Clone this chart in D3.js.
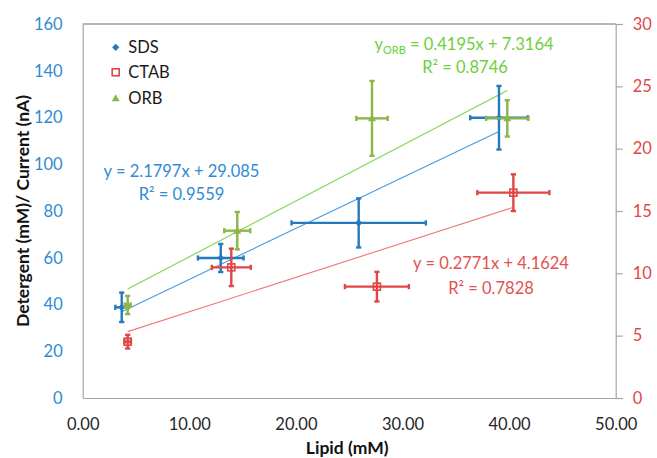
<!DOCTYPE html>
<html>
<head>
<meta charset="utf-8">
<script src="https://cdn.jsdelivr.net/npm/d3@7"></script>
<style>
  body { margin: 0; background: #fff; }
  svg { font-family: Lato, "Open Sans", sans-serif; }
</style>
</head>
<body>
<svg id="grafico" width="657" height="458"></svg>
<script>
// series y valores (SDS en eje izquierdo, CTAB y ORB en eje derecho)
const series = ["SDS", "CTAB", "ORB"];

const sdsX = [3.66, 12.95, 25.89, 39.05];
const sdsY = [38.8, 59.9, 74.9, 119.9];
const sdsErrX = [0.6, 2.14, 6.3, 2.7];
const sdsErrY = [6.3, 6.0, 10.5, 13.6];

const ctabX = [4.22, 13.94, 27.6, 40.4];
const ctabY = [4.52, 10.48, 8.93, 16.47];
const ctabErrX = [0.3, 1.83, 3.0, 3.38];
const ctabErrY = [0.55, 1.5, 1.19, 1.47];

const orbX = [4.22, 14.5, 27.14, 39.83];
const orbY = [7.46, 13.42, 22.43, 22.43];
const orbErrX = [0.28, 1.22, 1.47, 1.99];
const orbErrY = [0.73, 1.5, 3.0, 1.46];

const ticksX = [0, 10, 20, 30, 40, 50];
const ticksIzq = [0, 20, 40, 60, 80, 100, 120, 140, 160];
const ticksDer = [0, 5, 10, 15, 20, 25, 30];

// textos de las ecuaciones de tendencia
const ecuacionSDS = ["y = 2.1797x + 29.085", "R² = 0.9559"];
const ecuacionCTAB = ["y = 0.2771x + 4.1624", "R² = 0.7828"];
const ecuacionORB = [" = 0.4195x + 7.3164", "R² = 0.8746"];

const margen = { top: 24, right: 41.3, bottom: 60, left: 82.7 };
const ancho = 657, alto = 458;

const svg = d3.select("#grafico");

const x = d3.scaleLinear().domain([0, 50]).range([margen.left, ancho - margen.right]);
const yIzq = d3.scaleLinear().domain([0, 160]).range([alto - margen.bottom, margen.top]);
const yDer = d3.scaleLinear().domain([0, 30]).range([alto - margen.bottom, margen.top]);

const colores = {
  SDS: { punto: "#2579bf", linea: "#4a9be0", texto: "#2f8bd3" },
  CTAB: { punto: "#e04646", linea: "#f07878", texto: "#e25252" },
  ORB: { punto: "#8cb646", linea: "#7fd650", texto: "#6cd03c" }
};

// borde superior del area de trazado
svg.append("line")
  .attr("x1", x(0)).attr("x2", x(50))
  .attr("y1", yIzq(160)).attr("y2", yIzq(160))
  .attr("stroke", "#6e6e6e").attr("stroke-width", 1.2);

// ejes
const ejeX = svg.append("g")
  .attr("transform", `translate(0,${alto - margen.bottom})`)
  .call(d3.axisBottom(x).tickValues(ticksX).tickSize(0).tickPadding(20).tickFormat(d3.format(".2f")));

const ejeIzq = svg.append("g")
  .attr("transform", `translate(${margen.left},0)`)
  .call(d3.axisLeft(yIzq).tickValues(ticksIzq).tickSize(0).tickPadding(20));

const ejeDer = svg.append("g")
  .attr("transform", `translate(${ancho - margen.right},0)`)
  .call(d3.axisRight(yDer).tickValues(ticksDer).tickSize(7).tickPadding(10));

[ejeX, ejeIzq, ejeDer].forEach(g => {
  g.select(".domain").attr("stroke", "#a6a6a6").attr("stroke-width", 1.2);
  g.selectAll(".tick line").attr("stroke", "#a6a6a6").attr("stroke-width", 1.2);
  g.selectAll("text").attr("font-family", "Lato, sans-serif").attr("font-size", 16.5);
});
ejeX.selectAll("text").attr("fill", "#262626");
ejeIzq.selectAll("text").attr("fill", "#2f8bd3");
ejeDer.selectAll("text").attr("fill", "#e04848");

// titulos de ejes
svg.append("text")
  .attr("x", x(25) - 2).attr("y", 454)
  .attr("text-anchor", "middle")
  .attr("font-weight", "bold").attr("font-size", 17.5).attr("fill", "#111")
  .text("Lipid (mM)");

svg.append("text")
  .attr("transform", `translate(28.5,${(yIzq(0) + yIzq(160)) / 2}) rotate(-90)`)
  .attr("text-anchor", "middle")
  .attr("font-weight", "bold").attr("font-size", 17.5).attr("fill", "#111")
  .text("Detergent (mM)/ Current (nA)");

// recta de minimos cuadrados entre el menor y el mayor x
function tendencia(xs, ys) {
  const mx = d3.mean(xs), my = d3.mean(ys);
  const sxy = d3.sum(xs, (v, i) => (v - mx) * (ys[i] - my));
  const sxx = d3.sum(xs, v => (v - mx) * (v - mx));
  const m = sxy / sxx, b = my - m * mx;
  const x0 = d3.min(xs), x1 = d3.max(xs);
  return [[x0, m * x0 + b], [x1, m * x1 + b]];
}

const datos = [
  { nombre: "SDS", xs: sdsX, ys: sdsY, ex: sdsErrX, ey: sdsErrY, y: yIzq },
  { nombre: "CTAB", xs: ctabX, ys: ctabY, ex: ctabErrX, ey: ctabErrY, y: yDer },
  { nombre: "ORB", xs: orbX, ys: orbY, ex: orbErrX, ey: orbErrY, y: yDer }
];

// lineas de tendencia
datos.forEach(s => {
  const pts = tendencia(s.xs, s.ys);
  svg.append("path")
    .attr("d", d3.line().x(d => x(d[0])).y(d => s.y(d[1]))(pts))
    .attr("fill", "none")
    .attr("stroke", colores[s.nombre].linea)
    .attr("stroke-width", 1.1);
});

// dibuja el simbolo de cada serie
function simbolo(g, nombre, cx, cy) {
  const c = colores[nombre].punto;
  if (nombre === "SDS") {
    g.append("path")
      .attr("d", `M${cx},${cy - 3.6} L${cx + 3.6},${cy} L${cx},${cy + 3.6} L${cx - 3.6},${cy} Z`)
      .attr("fill", c);
  } else if (nombre === "CTAB") {
    g.append("rect")
      .attr("x", cx - 3.5).attr("y", cy - 3.5)
      .attr("width", 7).attr("height", 7)
      .attr("fill", "none").attr("stroke", c).attr("stroke-width", 1.6);
  } else {
    g.append("path")
      .attr("d", `M${cx},${cy - 4} L${cx + 4},${cy + 3} L${cx - 4},${cy + 3} Z`)
      .attr("fill", c);
  }
}

// barras de error y puntos
const cap = 2.6;
datos.forEach(s => {
  const c = colores[s.nombre].punto;
  const g = svg.append("g").attr("class", "serie " + s.nombre);
  s.xs.forEach((vx, i) => {
    const px = x(vx), py = s.y(s.ys[i]);
    const xl = x(vx - s.ex[i]), xr = x(vx + s.ex[i]);
    const yt = s.y(s.ys[i] + s.ey[i]), yb = s.y(s.ys[i] - s.ey[i]);
    const segs = [
      [xl, py, xr, py], [xl, py - cap, xl, py + cap], [xr, py - cap, xr, py + cap],
      [px, yt, px, yb], [px - cap, yt, px + cap, yt], [px - cap, yb, px + cap, yb]
    ];
    segs.forEach(d => {
      g.append("line")
        .attr("x1", d[0]).attr("y1", d[1]).attr("x2", d[2]).attr("y2", d[3])
        .attr("stroke", c).attr("stroke-width", 2.4);
    });
    simbolo(g, s.nombre, px, py);
  });
});

// leyenda
const leyenda = svg.append("g");
series.forEach((nombre, i) => {
  const cy = [47.3, 72.3, 98.3][i];
  simbolo(leyenda, nombre, 115.7, cy);
  leyenda.append("text")
    .attr("x", 128.3).attr("y", cy).attr("dy", "0.36em")
    .attr("font-size", 16.5).attr("fill", "#1a1a1a")
    .text(nombre);
});

// ecuaciones
function ecuacion(lineas, cx, y1, y2, color) {
  svg.append("text").attr("x", cx).attr("y", y1).attr("text-anchor", "middle")
    .attr("font-size", 16.5).attr("fill", color).text(lineas[0]);
  svg.append("text").attr("x", cx).attr("y", y2).attr("text-anchor", "middle")
    .attr("font-size", 16.5).attr("fill", color).text(lineas[1]);
}
ecuacion(ecuacionSDS, 181.5, 176.5, 200, colores.SDS.texto);
ecuacion(ecuacionCTAB, 491, 268.5, 293.5, colores.CTAB.texto);

const tOrb = svg.append("text").attr("x", 464).attr("y", 50).attr("text-anchor", "middle")
  .attr("font-size", 16.5).attr("fill", colores.ORB.texto);
tOrb.append("tspan").text("y");
tOrb.append("tspan").attr("dy", 4).attr("font-size", 11).text("ORB");
tOrb.append("tspan").attr("dy", -4).text(ecuacionORB[0]);
svg.append("text").attr("x", 465).attr("y", 73).attr("text-anchor", "middle")
  .attr("font-size", 16.5).attr("fill", colores.ORB.texto).text(ecuacionORB[1]);
</script>
</body>
</html>
